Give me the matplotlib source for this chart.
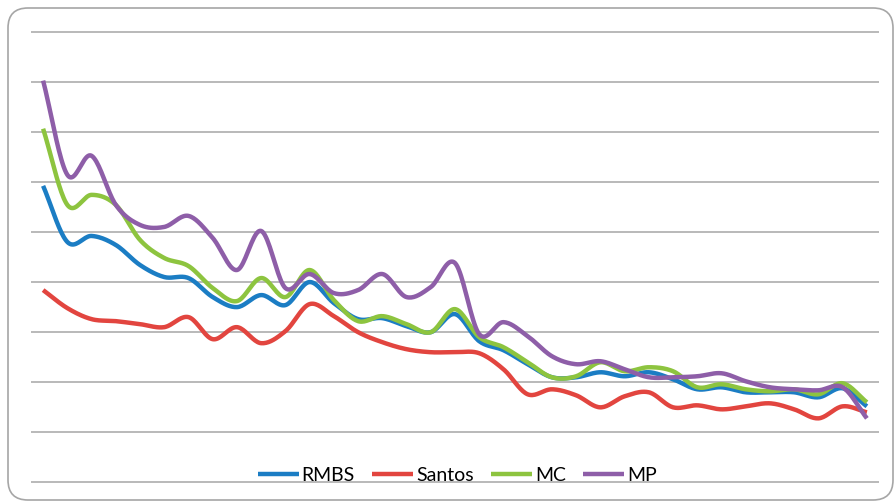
import numpy as np
import matplotlib
matplotlib.use("Agg")
import matplotlib.pyplot as plt
from matplotlib.patches import FancyBboxPatch

# values (35 points per series)
rmbs = [29.6, 24.0, 24.6, 23.7, 21.7, 20.5, 20.4, 18.5, 17.5, 18.7, 17.7, 20.0,
        17.9, 16.3, 16.4, 15.6, 15.0, 16.8, 14.1, 13.2, 11.8, 10.5, 10.5, 11.0,
        10.6, 11.0, 10.3, 9.3, 9.5, 9.0, 9.0, 9.0, 8.5, 9.4, 7.6]
santos = [19.2, 17.4, 16.3, 16.1, 15.8, 15.5, 16.5, 14.3, 15.5, 13.9, 15.1, 17.8,
          16.6, 15.0, 14.0, 13.3, 13.0, 13.0, 12.9, 11.3, 8.8, 9.3, 8.7, 7.5,
          8.6, 9.0, 7.5, 7.7, 7.3, 7.6, 7.9, 7.3, 6.4, 7.6, 7.0]
mc = [35.3, 27.7, 28.7, 27.7, 24.2, 22.4, 21.6, 19.4, 18.1, 20.4, 18.5, 21.2,
      18.2, 16.1, 16.6, 15.8, 15.0, 17.3, 14.5, 13.5, 12.0, 10.5, 10.6, 12.0,
      11.1, 11.5, 11.1, 9.5, 9.8, 9.3, 9.1, 9.3, 8.8, 9.9, 8.0]
mp = [40.1, 30.7, 32.6, 27.7, 25.7, 25.5, 26.6, 24.4, 21.2, 25.1, 19.4, 20.8,
      18.9, 19.2, 20.8, 18.5, 19.5, 21.9, 14.8, 16.0, 14.6, 12.6, 11.8, 12.1,
      11.3, 10.5, 10.5, 10.6, 10.9, 10.1, 9.5, 9.3, 9.2, 9.5, 6.4]

series_names = ["RMBS", "Santos", "MC", "MP"]
series_colors = ["#1b7dc4", "#e2453f", "#8dc43f", "#8e5ea8"]


def smooth(y, steps=20):
    # Catmull-Rom style smoothing, like Excel's "smoothed line"
    y = np.asarray(y, dtype=float)
    n = len(y)
    m = np.empty(n)
    m[1:-1] = (y[2:] - y[:-2]) / 2
    m[0] = y[1] - y[0]
    m[-1] = y[-1] - y[-2]
    xs, ys = [], []
    t = np.linspace(0, 1, steps, endpoint=False)
    h00 = 2 * t**3 - 3 * t**2 + 1
    h10 = t**3 - 2 * t**2 + t
    h01 = -2 * t**3 + 3 * t**2
    h11 = t**3 - t**2
    for i in range(n - 1):
        xs.append(i + t)
        ys.append(h00 * y[i] + h10 * m[i] + h01 * y[i + 1] + h11 * m[i + 1])
    xs.append([n - 1])
    ys.append([y[-1]])
    return np.concatenate(xs), np.concatenate(ys)


fig = plt.figure(figsize=(8.95, 5.04), dpi=100)
fig.patch.set_facecolor("white")

frame = FancyBboxPatch((0.08, 0.04), 8.85, 4.92,
                       boxstyle="round,pad=0,rounding_size=0.2",
                       transform=fig.dpi_scale_trans,
                       facecolor="none", edgecolor="#a6a6a6", lw=1.2,
                       zorder=-10)
fig.patches.append(frame)

ax = fig.add_axes([31 / 895, 20 / 504, 848 / 895, 454 / 504])
ax.set_facecolor("none")

for vals, name, col in zip([rmbs, santos, mc, mp], series_names, series_colors):
    sx, sy = smooth(vals)
    ax.plot(sx, sy, color=col, lw=3.2, label=name, solid_capstyle="butt")

ax.set_xlim(-0.5, len(rmbs) - 0.5)
ax.set_ylim(-0.15, 45.15)
ax.set_yticks(np.arange(0, 46, 5))
ax.yaxis.grid(True, color="#b3b3b3", lw=1.3)
ax.set_axisbelow(True)
ax.tick_params(left=False, bottom=False, labelleft=False, labelbottom=False)
for s in ax.spines.values():
    s.set_visible(False)

fig.legend(loc="center", bbox_to_anchor=(0.511, 0.056), ncol=4, frameon=False,
           prop={"family": "Lato", "size": 14}, handlelength=2.1,
           handletextpad=0.15, columnspacing=0.9)

fig.savefig("out.png", dpi=100, facecolor="white")
